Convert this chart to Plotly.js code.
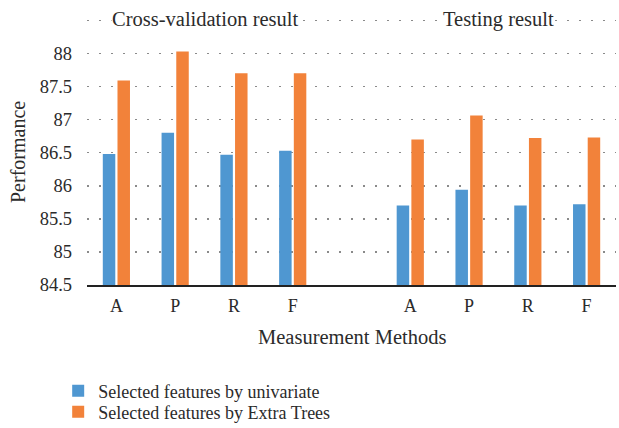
<!DOCTYPE html>
<html>
<head>
<meta charset="utf-8">
<script src="https://cdn.plot.ly/plotly-3.0.1.min.js"></script>
<style>html,body{margin:0;padding:0;background:#fff;}#chart{width:619px;height:428px;}</style>
</head>
<body>
<div id="chart"></div>
<script>
const categories = ["A", "P", "R", "F"];
const groupTitles = ["Cross-validation result", "Testing result"];
const seriesNames = ["Selected features by univariate", "Selected features by Extra Trees"];
const cvUnivariate = [86.48, 86.80, 86.47, 86.53];
const cvExtraTrees = [87.59, 88.03, 87.70, 87.70];
const testUnivariate = [85.70, 85.94, 85.70, 85.72];
const testExtraTrees = [86.70, 87.06, 86.72, 86.73];
const yTicks = [84.5, 85, 85.5, 86, 86.5, 87, 87.5, 88, 88.5];
const xTitle = "Measurement Methods";
const yTitle = "Performance";

const FONT = "Liberation Serif";
const TXT = "#2b2b2b";
const blue = "#4f97d1";
const orange = "#f2823a";

// positions: cross-validation 0..3, empty slot 4, testing 5..8
const cvX = categories.map((c, i) => i);
const testX = categories.map((c, i) => i + categories.length + 1);
const allX = cvX.concat(testX);
const allLabels = categories.concat(categories);

const traces = [
  {type: "bar", name: seriesNames[0], x: allX, y: cvUnivariate.concat(testUnivariate),
   marker: {color: blue}, legend: "legend"},
  {type: "bar", name: seriesNames[1], x: allX, y: cvExtraTrees.concat(testExtraTrees),
   marker: {color: orange}, legend: "legend2"}
];

const W = 619, H = 428, ML = 87, MR = 3, MT = 19, MB = 143;
const PW = W - ML - MR, PH = H - MT - MB;

function legendAt(yPix) {
  return {xref: "container", yref: "container", xanchor: "left", yanchor: "middle",
    x: 0.094, y: 1 - yPix / H, orientation: "v",
    font: {family: FONT, size: 18, color: TXT}, itemwidth: 30, bgcolor: "rgba(0,0,0,0)"};
}

const layout = {
  width: W, height: H,
  margin: {l: ML, r: MR, t: MT, b: MB, autoexpand: false},
  paper_bgcolor: "#fff", plot_bgcolor: "#fff",
  font: {family: FONT, size: 17, color: TXT},
  barmode: "group", bargap: 0.5, bargroupgap: 0.15,
  showlegend: true,
  legend: legendAt(391),
  legend2: legendAt(412),
  xaxis: {
    range: [-0.5, 8.5], tickmode: "array", tickvals: allX, ticktext: allLabels,
    showgrid: false, zeroline: false, showline: true, linecolor: "#222", linewidth: 1.5,
    ticks: "", tickfont: {family: FONT, size: 18, color: TXT}, automargin: false,
    ticklabelstandoff: 4
  },
  yaxis: {
    range: [84.5, 88.52], tickmode: "array",
    tickvals: yTicks,
    ticktext: yTicks.map(v => v === 88.5 ? "" : String(v)),
    showgrid: true, gridcolor: "#8a8a8a", gridwidth: 1.5, griddash: "1.5px,10.5px",
    zeroline: false, showline: false, ticks: "", ticklen: 0, automargin: false,
    tickfont: {family: FONT, size: 18.5, color: TXT}, ticklabelstandoff: 14
  },
  annotations: [
    {text: groupTitles[0], x: 1.5, y: 88.5, xref: "x", yref: "y", showarrow: false,
     bgcolor: "#fff", borderpad: 0, yshift: 1, font: {family: FONT, size: 20.5, color: TXT}},
    {text: groupTitles[1], x: 6.5, y: 88.5, xref: "x", yref: "y", showarrow: false,
     bgcolor: "#fff", borderpad: 0, yshift: 1, font: {family: FONT, size: 20.5, color: TXT}},
    {text: xTitle, x: (352 - ML) / PW, y: -(337 - (MT + PH)) / PH, xref: "paper", yref: "paper",
     showarrow: false, xanchor: "center", yanchor: "middle",
     font: {family: FONT, size: 20.5, color: TXT}},
    {text: yTitle, x: (18 - ML) / PW, y: (MT + PH - 152) / PH, xref: "paper", yref: "paper",
     showarrow: false, textangle: -90, xanchor: "center", yanchor: "middle",
     font: {family: FONT, size: 20, color: TXT}}
  ]
};

Plotly.newPlot("chart", traces, layout, {staticPlot: true, displayModeBar: false});
</script>
</body>
</html>
